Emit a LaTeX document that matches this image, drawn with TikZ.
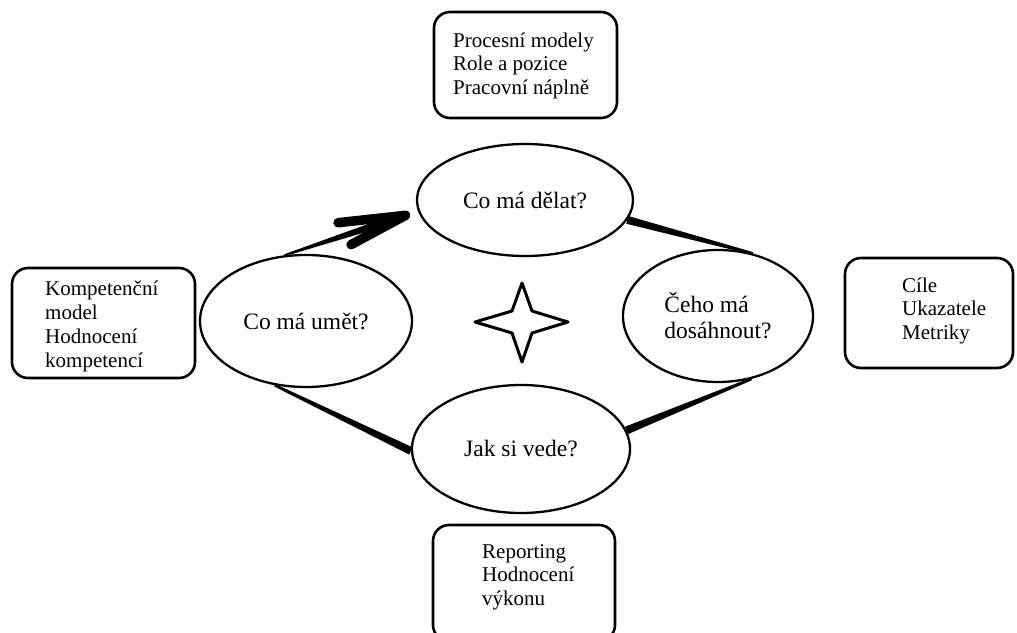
\documentclass[tikz,border=0pt]{standalone}
\usepackage{fontspec}
\setmainfont{Liberation Serif}
\usetikzlibrary{shapes.geometric,calc}

% Tapered connector: half-width #3 at #1, half-width #4 at #2
\newcommand\taperline[4]{%
  \fill ($(#1)!#3!90:(#2)$) -- ($(#1)!#3!-90:(#2)$)
        -- ($(#2)!#4!90:(#1)$) -- ($(#2)!#4!-90:(#1)$) -- cycle;}

\begin{document}
\begin{tikzpicture}[x=1pt,y=-1pt,
  question/.style={ellipse,draw,line width=2.3pt,inner sep=0pt,
    font=\fontsize{23.5}{26}\selectfont},
  infobox/.style={draw,line width=2.6pt,rounded corners=16pt,inner sep=0pt},
  infotext/.style={align=left,anchor=base west,inner sep=0pt,
    font=\fontsize{21}{23.7}\selectfont},
]
\clip (0,0) rectangle (1017,632);

% information boxes
\node[infobox,minimum width=183pt,minimum height=106pt] (boxT) at (525.5,65) {};
\node[infobox,minimum width=183pt,minimum height=110pt] (boxL) at (103.5,323) {};
\node[infobox,minimum width=168pt,minimum height=110pt] (boxR) at (929,313) {};
\node[infobox,minimum width=182pt,minimum height=116pt] (boxB) at (524,583) {};

% box texts, placed by the baseline of their last line
\node[infotext] (txtT) at (453,94.4) {Procesní modely\\Role a pozice\\Pracovní náplně};
\node[infotext] (txtL) at (45,367) {Kompetenční\\model\\Hodnocení\\kompetencí};
\node[infotext] (txtR) at (902,339.4) {Cíle\\Ukazatele\\Metriky};
\node[infotext] (txtB) at (482,605.4) {Reporting\\Hodnocení\\výkonu};

% question ellipses
\node[question,minimum width=216pt,minimum height=112pt] (T) at (525,200) {Co má dělat?};
\node[question,minimum width=212pt,minimum height=132pt] (L) at (306,321) {Co má umět?};
\node[question,minimum width=190pt,minimum height=132pt,align=left] (R) at (718,316) {Čeho má\\dosáhnout?};
\node[question,minimum width=218pt,minimum height=128pt] (B) at (521,449) {Jak si vede?};

% tapered connectors between the ellipses
\taperline{T.-11}{R.61}{4pt}{1.3pt}
\taperline{B.10}{R.-62}{4pt}{1.3pt}
\taperline{B.181}{L.-116}{4pt}{1.3pt}

% arrow from "Co má umět?" to "Co má dělat?"
\coordinate (tip) at ($(T.186)!13pt!(L.108)$);
\taperline{tip}{L.108}{4.6pt}{1pt}
\draw[line width=9.5pt,line cap=round,line join=round]
  ($(tip)!68pt!-12:(L.108)$) -- (tip) -- ($(tip)!62pt!10:(L.108)$);

% four-pointed star in the middle
\draw[line width=3pt,line join=round]
  (522,283) -- (532,311) -- (568,322) -- (532,333) -- (522,362)
  -- (512,333) -- (475,322) -- (512,311) -- cycle;
\end{tikzpicture}
\end{document}
